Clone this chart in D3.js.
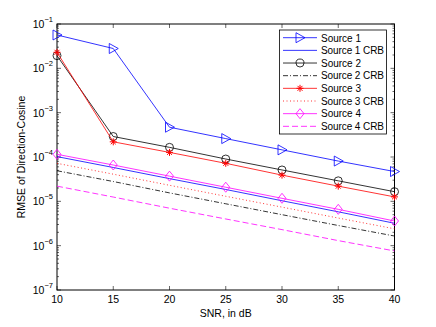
<!DOCTYPE html>
<style>
body { margin: 0; background: #fff; }
svg { font-family: "Liberation Sans", Arial, Helvetica, sans-serif; }
</style>
<svg width="436" height="327"></svg>
<script src="https://cdn.jsdelivr.net/npm/d3@7/dist/d3.min.js"></script>
<script>

// data
var snr = [10, 15, 20, 25, 30, 35, 40];
var src1 = [0.0565, 0.028, 4.7e-4, 2.6e-4, 1.45e-4, 8.1e-5, 4.7e-5];
var src1crb = [1.02e-4, 5.8e-5, 3.25e-5, 1.85e-5, 1.03e-5, 5.8e-6, 3.2e-6];
var src2 = [0.0193, 2.9e-4, 1.65e-4, 9.0e-5, 5.1e-5, 2.9e-5, 1.65e-5];
var src2crb = [4.9e-5, 2.8e-5, 1.55e-5, 8.8e-6, 5.0e-6, 2.85e-6, 1.65e-6];
var src3 = [0.023, 2.2e-4, 1.27e-4, 7.2e-5, 3.9e-5, 2.2e-5, 1.26e-5];
var src3crb = [7.2e-5, 4.1e-5, 2.3e-5, 1.3e-5, 7.4e-6, 4.2e-6, 2.4e-6];
var src4 = [1.15e-4, 6.6e-5, 3.7e-5, 2.08e-5, 1.17e-5, 6.6e-6, 3.6e-6];
var src4crb = [2.2e-5, 1.25e-5, 7.0e-6, 4.0e-6, 2.3e-6, 1.3e-6, 7.6e-7];
var xTicks = [10, 15, 20, 25, 30, 35, 40];
var yExps = [-7, -6, -5, -4, -3, -2, -1];

var series = [
  {name: "Source 1", vals: src1, color: "#0000ff", dash: null, marker: "tri"},
  {name: "Source 1 CRB", vals: src1crb, color: "#0000ff", dash: null, marker: null},
  {name: "Source 2", vals: src2, color: "#000000", dash: null, marker: "circle"},
  {name: "Source 2 CRB", vals: src2crb, color: "#000000", dash: "5,2,1,2", marker: null},
  {name: "Source 3", vals: src3, color: "#ff0000", dash: null, marker: "star"},
  {name: "Source 3 CRB", vals: src3crb, color: "#ff0000", dash: "1,2.5", marker: null},
  {name: "Source 4", vals: src4, color: "#ff00ff", dash: null, marker: "diamond"},
  {name: "Source 4 CRB", vals: src4crb, color: "#ff00ff", dash: "6,3", marker: null}
];

var L = 57, R = 394.5, T = 24, B = 290;
var fs = 10.5;
var svg = d3.select("svg");

var x = d3.scaleLinear().domain([10, 40]).range([L, R]);
var y = d3.scaleLog().domain([1e-7, 1e-1]).range([B, T]);

var tickLen = 4;
var ax = svg.append("g");

// x ticks top and bottom
xTicks.forEach(function(t) {
  ax.append("line").attr("x1", x(t)).attr("x2", x(t)).attr("y1", B).attr("y2", B - tickLen).attr("stroke", "#000").attr("stroke-width", 0.6);
  ax.append("line").attr("x1", x(t)).attr("x2", x(t)).attr("y1", T).attr("y2", T + tickLen).attr("stroke", "#000").attr("stroke-width", 0.6);
  ax.append("text").attr("x", x(t)).attr("y", B + 13).attr("text-anchor", "middle")
    .attr("font-size", fs).text(t);
});

// y ticks, major and minor, left and right
yExps.forEach(function(e) {
  var v = Math.pow(10, e);
  [[L, 1], [R, -1]].forEach(function(s) {
    ax.append("line").attr("x1", s[0]).attr("x2", s[0] + s[1] * tickLen).attr("y1", y(v)).attr("y2", y(v)).attr("stroke", "#000").attr("stroke-width", 0.6);
  });
  var tx = ax.append("text").attr("x", L - 4).attr("y", y(v) + 4).attr("text-anchor", "end").attr("font-size", fs);
  tx.append("tspan").text("10");
  tx.append("tspan").attr("dy", -6).attr("font-size", 7.5).text("\u2212" + (-e));
  if (e < -1) {
    for (var k = 2; k <= 9; k++) {
      var mv = k * v;
      [[L, 1], [R, -1]].forEach(function(s) {
        ax.append("line").attr("x1", s[0]).attr("x2", s[0] + s[1] * 2).attr("y1", y(mv)).attr("y2", y(mv)).attr("stroke", "#000").attr("stroke-width", 0.6);
      });
    }
  }
});

ax.append("rect").attr("x", L).attr("y", T).attr("width", R - L).attr("height", B - T)
  .attr("fill", "none").attr("stroke", "#000").attr("stroke-width", 1);

// axis labels
svg.append("text").attr("x", (L + R) / 2).attr("y", 317).attr("text-anchor", "middle").attr("font-size", fs).text("SNR, in dB");
svg.append("text").attr("transform", "translate(25," + ((T + B) / 2) + ") rotate(-90)")
  .attr("text-anchor", "middle").attr("font-size", fs).text("RMSE of Direction-Cosine");

function drawMarker(g, type, cx, cy, color) {
  if (type === "tri") {
    g.append("path").attr("d", "M" + (cx - 4) + "," + (cy - 5) + "L" + (cx + 5) + "," + cy + "L" + (cx - 4) + "," + (cy + 5) + "Z")
      .attr("fill", "none").attr("stroke", color).attr("stroke-width", 0.8);
  } else if (type === "circle") {
    g.append("circle").attr("cx", cx).attr("cy", cy).attr("r", 4)
      .attr("fill", "none").attr("stroke", color).attr("stroke-width", 0.8);
  } else if (type === "diamond") {
    g.append("path").attr("d", "M" + cx + "," + (cy - 5) + "L" + (cx + 4) + "," + cy + "L" + cx + "," + (cy + 5) + "L" + (cx - 4) + "," + cy + "Z")
      .attr("fill", "none").attr("stroke", color).attr("stroke-width", 0.8);
  } else if (type === "star") {
    var r = 3.5, d = "";
    [0, 45, 90, 135].forEach(function(a) {
      var rad = a * Math.PI / 180;
      d += "M" + (cx - r * Math.cos(rad)) + "," + (cy - r * Math.sin(rad)) + "L" + (cx + r * Math.cos(rad)) + "," + (cy + r * Math.sin(rad));
    });
    g.append("path").attr("d", d).attr("stroke", color).attr("stroke-width", 1);
  }
}

var line = d3.line().x(function(d, i) { return x(snr[i]); }).y(function(d) { return y(d); });

var plot = svg.append("g");
series.forEach(function(s) {
  plot.append("path").datum(s.vals).attr("d", line)
    .attr("fill", "none").attr("stroke", s.color).attr("stroke-width", 0.8)
    .attr("stroke-dasharray", s.dash);
  if (s.marker) {
    s.vals.forEach(function(v, i) { drawMarker(plot, s.marker, x(snr[i]), y(v), s.color); });
  }
});

// legend
var lg = svg.append("g");
lg.append("rect").attr("x", 279.5).attr("y", 30).attr("width", 107).attr("height", 104)
  .attr("fill", "#fff").attr("stroke", "#000").attr("stroke-width", 0.8);
series.forEach(function(s, i) {
  var ly = 37.7 + i * 12.66;
  lg.append("line").attr("x1", 283).attr("x2", 317).attr("y1", ly).attr("y2", ly)
    .attr("stroke", s.color).attr("stroke-width", 0.8).attr("stroke-dasharray", s.dash);
  if (s.marker) drawMarker(lg, s.marker, 300, ly, s.color);
  lg.append("text").attr("x", 321).attr("y", ly + 3.8).attr("font-size", 10)
    .attr("textLength", s.name.length > 8 ? 63 : null).text(s.name);
});
</script>
